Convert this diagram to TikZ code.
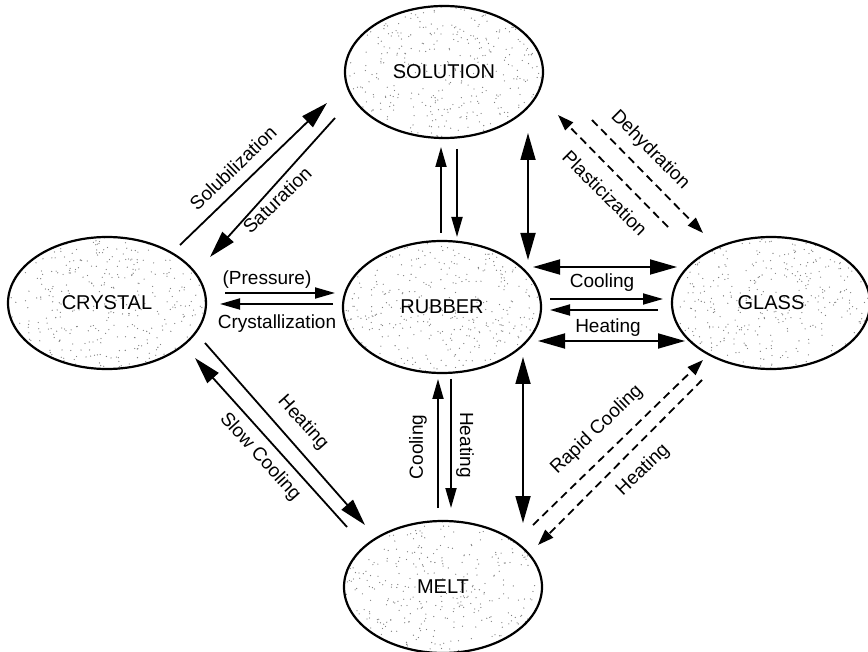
\documentclass[tikz,border=0pt]{standalone}
\usepackage{fontspec}
\setmainfont{Liberation Sans}
\usetikzlibrary{shapes.geometric,arrows.meta,calc}

% random stipple inside an ellipse centred on a named coordinate
\newcommand\stippledots[1]{%
  \begin{scope}
    \clip (#1) ellipse [x radius=98, y radius=65];
    \foreach \k in {1,...,420}{
      \fill[black!50] ($(#1)+(rand*99,rand*66)$) circle [radius=0.65pt];
    }
  \end{scope}}

\begin{document}
\begin{tikzpicture}[x=1pt,y=-1pt,
  state/.style={ellipse, draw, line width=2.2pt, minimum width=198pt,
    minimum height=132pt, inner sep=0pt, font=\fontsize{20}{23}\selectfont},
  lbl/.style={font=\fontsize{19}{22}\selectfont, inner sep=0pt},
  bigarr/.style={line width=1.8pt, -{Triangle[length=27pt,width=15pt]}},
  bothway/.style={line width=1.8pt,
    {Triangle[length=27pt,width=15pt]}-{Triangle[length=27pt,width=15pt]}},
  smallarr/.style={line width=1.8pt, -{Triangle[length=20pt,width=11pt]}},
  dasharr/.style={line width=1.8pt, dash pattern=on 8pt off 5pt,
    -{Triangle[length=16pt,width=11pt]}},
]
\useasboundingbox (0,0) rectangle (868,652);

% state centres
\coordinate (c-crystal) at (107,303);
\coordinate (c-solution) at (444,72);
\coordinate (c-rubber) at (442,307);
\coordinate (c-glass) at (771,303);
\coordinate (c-melt) at (443,587);

\pgfmathsetseed{17}
\foreach \c in {crystal,solution,rubber,glass,melt}{\stippledots{c-\c}}

% states
\node[state] (crystal) at (c-crystal) {CRYSTAL};
\node[state] (solution) at (c-solution) {SOLUTION};
\node[state] (rubber) at (c-rubber) {RUBBER};
\node[state] (glass) at (c-glass) {GLASS};
\node[state] (melt) at (c-melt) {MELT};

% crystal <-> solution
\draw[bigarr] ([shift={(73,-58)}]crystal.center) -- ([shift={(-117,31)}]solution.center);
\draw[bigarr] ([shift={(-109,46)}]solution.center) -- ([shift={(103,-46)}]crystal.center);
\node[lbl, rotate=44] (l-solub) at (233,168) {Solubilization};
\node[lbl, rotate=44] (l-satur) at (277,200) {Saturation};

% solution <-> rubber
\draw[smallarr] ([shift={(-1,-74)}]rubber.center) -- ([shift={(-3,75)}]solution.center);
\draw[smallarr] ([shift={(13,77)}]solution.center) -- ([shift={(15,-70)}]rubber.center);
\draw[bothway] ([shift={(84,61)}]solution.center) -- ([shift={(86,-47)}]rubber.center);

% solution <-> glass
\draw[dasharr] ([shift={(-103,-76)}]glass.center) -- ([shift={(114,43)}]solution.center);
\draw[dasharr] ([shift={(148,48)}]solution.center) -- ([shift={(-68,-70)}]glass.center);
\node[lbl, rotate=-45] (l-dehyd) at (650,150) {Dehydration};
\node[lbl, rotate=-45] (l-plast) at (605,193) {Plasticization};

% crystal <-> rubber
\draw[smallarr] ([shift={(118,-10)}]crystal.center) -- ([shift={(-107,-14)}]rubber.center);
\draw[smallarr] ([shift={(-109,-3)}]rubber.center) -- ([shift={(113,1)}]crystal.center);
\node[lbl] (l-press) at (267,280) {(Pressure)};
\node[lbl] (l-cryst) at (277,324) {Crystallization};

% rubber <-> glass
\draw[bothway] ([shift={(91,-40)}]rubber.center) -- ([shift={(-94,-36)}]glass.center);
\draw[smallarr] ([shift={(108,-8)}]rubber.center) -- ([shift={(-108,-4)}]glass.center);
\draw[smallarr] ([shift={(-113,7)}]glass.center) -- ([shift={(108,3)}]rubber.center);
\draw[bothway] ([shift={(96,34)}]rubber.center) -- ([shift={(-86,38)}]glass.center);
\node[lbl] (l-rgcool) at (602,283) {Cooling};
\node[lbl] (l-rgheat) at (608,328) {Heating};

% rubber <-> melt
\draw[bothway] ([shift={(81,50)}]rubber.center) -- ([shift={(80,-64)}]melt.center);
\draw[smallarr] ([shift={(-5,-79)}]melt.center) -- ([shift={(-4,72)}]rubber.center);
\draw[smallarr] ([shift={(9,72)}]rubber.center) -- ([shift={(8,-79)}]melt.center);
\node[lbl, rotate=90] (l-rmcool) at (418,447) {Cooling};
\node[lbl, rotate=-90] (l-rmheat) at (465,445) {Heating};

% melt <-> glass
\draw[dasharr] ([shift={(90,-62)}]melt.center) -- ([shift={(-68,57)}]glass.center);
\draw[dasharr] ([shift={(-69,77)}]glass.center) -- ([shift={(95,-42)}]melt.center);
\node[lbl, rotate=44] (l-rapid) at (597,430) {Rapid Cooling};
\node[lbl, rotate=44] (l-mgheat) at (643,470) {Heating};

% crystal <-> melt
\draw[bigarr] ([shift={(98,40)}]crystal.center) -- ([shift={(-78,-62)}]melt.center);
\draw[bigarr] ([shift={(-96,-60)}]melt.center) -- ([shift={(88,55)}]crystal.center);
\node[lbl, rotate=-48] (l-cmheat) at (303,423) {Heating};
\node[lbl, rotate=-48] (l-slow) at (260,457) {Slow Cooling};
\end{tikzpicture}
\end{document}
